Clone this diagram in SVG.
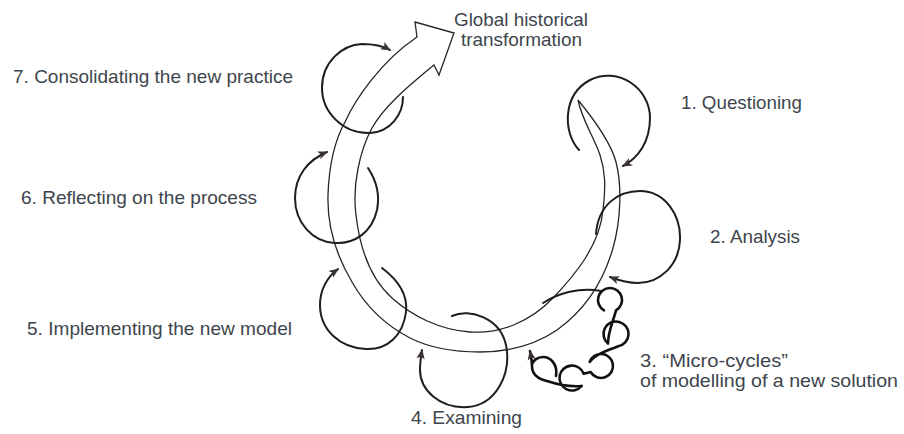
<svg xmlns="http://www.w3.org/2000/svg" width="904" height="434" viewBox="0 0 904 434">
<style>
.lbl{font-family:"Liberation Sans",Arial,sans-serif;font-size:18.5px;fill:#3e454c}
.loop{fill:none;stroke:#1e1e1e;stroke-width:2;stroke-linecap:round}
.micro{fill:none;stroke:#111;stroke-width:2.6;stroke-linecap:round;stroke-linejoin:round}
.band{fill:none;stroke:#262626;stroke-width:1.3;stroke-linejoin:miter}
</style>
<defs>
<marker id="ah" markerWidth="12" markerHeight="10" refX="9" refY="5" orient="auto" markerUnits="userSpaceOnUse">
<path d="M0,0.8 L10,5 L0,9.2 L2.5,5 Z" fill="#3a3038"/>
</marker>
</defs>
<rect width="904" height="434" fill="#ffffff"/>

<g id="connectors">
<path class="band" d="M578,100 C592,117 610,140 616,162 C622,185 621,220 613,248 C603,283 585,310 557,330 C535,345 510,352 480,352 C455,352 430,348 410,338 C385,325 365,305 352,282 C336,255 327,225 328,195 C329,165 335,140 345,122 C355,100 380,62 417,37 L415,22 L454,33 L439,75 L434,65 C410,85 385,105 372,128 C360,150 352,185 356,215 C360,250 372,280 392,298 C412,316 440,330 470,332 C500,334 530,322 553,298 C575,275 600,245 603,210 C606,185 605,170 600,155 C594,137 582,120 578,100 Z"/>
</g>

<g id="global">
<text class="lbl" x="454" y="26" textLength="134" lengthAdjust="spacingAndGlyphs">Global historical</text>
<text class="lbl" x="461" y="46" textLength="121" lengthAdjust="spacingAndGlyphs">transformation</text>
</g>

<g id="stage-1">
<path class="loop" marker-end="url(#ah)" d="M579,150 C563,133 562,95 590,80 C618,66 650,88 650,118 C650,142 638,158 623,166"/>
<text class="lbl" x="681" y="109" textLength="121" lengthAdjust="spacingAndGlyphs">1. Questioning</text>
</g>

<g id="stage-2">
<path class="loop" marker-end="url(#ah)" d="M596,234 C598,205 618,191 640,191 C665,191 681,215 680,240 C679,265 660,283 638,283 C628,283 618,280 610,277"/>
<text class="lbl" x="710" y="243" textLength="90" lengthAdjust="spacingAndGlyphs">2. Analysis</text>
</g>

<g id="stage-3">
<path class="loop" d="M543,303 C558,293 580,287 601,291"/>
<path class="micro" d="M604,310.4 A12,12 0 0 1 610,288 A12,12 0 0 1 616,310.4 C613,322 608,332 608,343.6 A12.5,12.5 0 0 1 619.2,321.9 A12.5,12.5 0 0 1 618.2,346.3 C608,350 596,354 589.7,361.9 A12,12 0 0 1 612.8,363.9 A12,12 0 0 1 590.6,372 L583.7,373.7 A12.5,12.5 0 0 0 559.7,375.8 A12.5,12.5 0 0 0 581.6,386"/>
<path class="micro" marker-end="url(#ah)" d="M581.6,386 C570,387 556,384 547,381 C538,379 532,374 532,366 C532,361 531,356 530,351"/>
<path class="micro" d="M556,376 C558,365 551,357 543,357 C537,357 533,361 532,364"/>
<text class="lbl" x="640" y="367" textLength="148" lengthAdjust="spacingAndGlyphs">3. “Micro-cycles”</text>
<text class="lbl" x="640" y="387" textLength="258" lengthAdjust="spacingAndGlyphs">of modelling of a new solution</text>
</g>

<g id="stage-4">
<path class="loop" marker-end="url(#ah)" d="M452,316 C470,308 500,318 506,345 C512,375 495,405 468,407 C440,409 420,390 420,370 C420,362 421,356 422,350"/>
<text class="lbl" x="411" y="424" textLength="111" lengthAdjust="spacingAndGlyphs">4. Examining</text>
</g>

<g id="stage-5">
<path class="loop" marker-end="url(#ah)" d="M382,268 C398,280 408,295 406,312 C403,335 388,350 366,349 C340,348 320,330 320,305 C320,290 327,277 338,269"/>
<text class="lbl" x="27" y="335" textLength="265" lengthAdjust="spacingAndGlyphs">5. Implementing the new model</text>
</g>

<g id="stage-6">
<path class="loop" marker-end="url(#ah)" d="M368,168 C376,180 380,195 377,210 C372,232 355,244 335,243 C312,242 295,222 295,198 C295,176 308,160 327,152"/>
<text class="lbl" x="21" y="204" textLength="236" lengthAdjust="spacingAndGlyphs">6. Reflecting on the process</text>
</g>

<g id="stage-7">
<path class="loop" marker-end="url(#ah)" d="M403,97 C403,115 390,132 370,133 C343,134 322,112 322,88 C322,62 342,45 362,44 C373,44 383,46 390,50"/>
<text class="lbl" x="13" y="83" textLength="280" lengthAdjust="spacingAndGlyphs">7. Consolidating the new practice</text>
</g>
</svg>
